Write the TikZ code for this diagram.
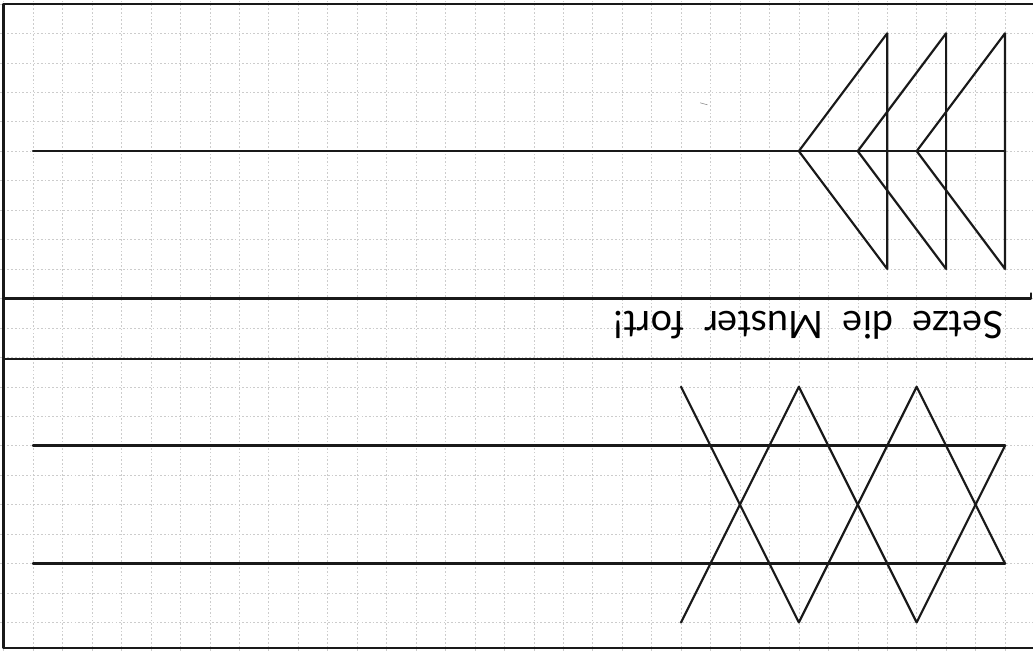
\documentclass[tikz,border=0pt]{standalone}
\usepackage{fontspec}
\setmainfont{Lato}
\usepackage{tikz}
\usetikzlibrary{positioning}

\begin{document}
\begin{tikzpicture}[
    gridline/.style={gray!40, line width=0.4pt, dash pattern=on 1.6pt off 2pt},
    pen/.style={black!90, line width=2.4pt, line cap=round, line join=round},
    thinpen/.style={black!90, line width=2.1pt, line cap=round, line join=round}
  ]
    \useasboundingbox (-0.12,0.13) rectangle (34.95,-21.97);
    % squared paper
    \draw[gridline] (-0.12,0.13) grid (34.95,-21.97);
    % frame and the band for the task
    \draw[pen] (34.95,0) -- (0,0) -- (0,-21.87) -- (34.95,-21.87);
    \draw[pen] (0,-10) -- (34.88,-10) -- (34.88,-9.83);
    \draw[pen] (0,-12.05) -- (34.95,-12.05);
    \node[rotate=180, anchor=base, inner sep=0pt, font=\fontsize{36.5}{44}\selectfont] (task) at (27.32,-10.45) {Setze\ \ die\ \ Muster\ \ fort!};
    % upper pattern: arrow heads
    \draw[pen] (1,-5) -- (34,-5);
    \foreach \ax in {27,29,31}
        \draw[thinpen] (\ax+3,-1) -- (\ax,-5) -- (\ax+3,-9) -- cycle;
    \draw[gray, line width=0.5pt] (23.65,-3.36) -- (23.9,-3.43);
    % lower pattern: zigzag between two lines
    \draw[pen] (1,-15) -- (34,-15);
    \draw[pen] (1,-19) -- (34,-19);
    \draw[thinpen] (23,-13) -- (27,-21) -- (31,-13) -- (34,-19);
    \draw[thinpen] (23,-21) -- (27,-13) -- (31,-21) -- (34,-15);
\end{tikzpicture}
\end{document}
